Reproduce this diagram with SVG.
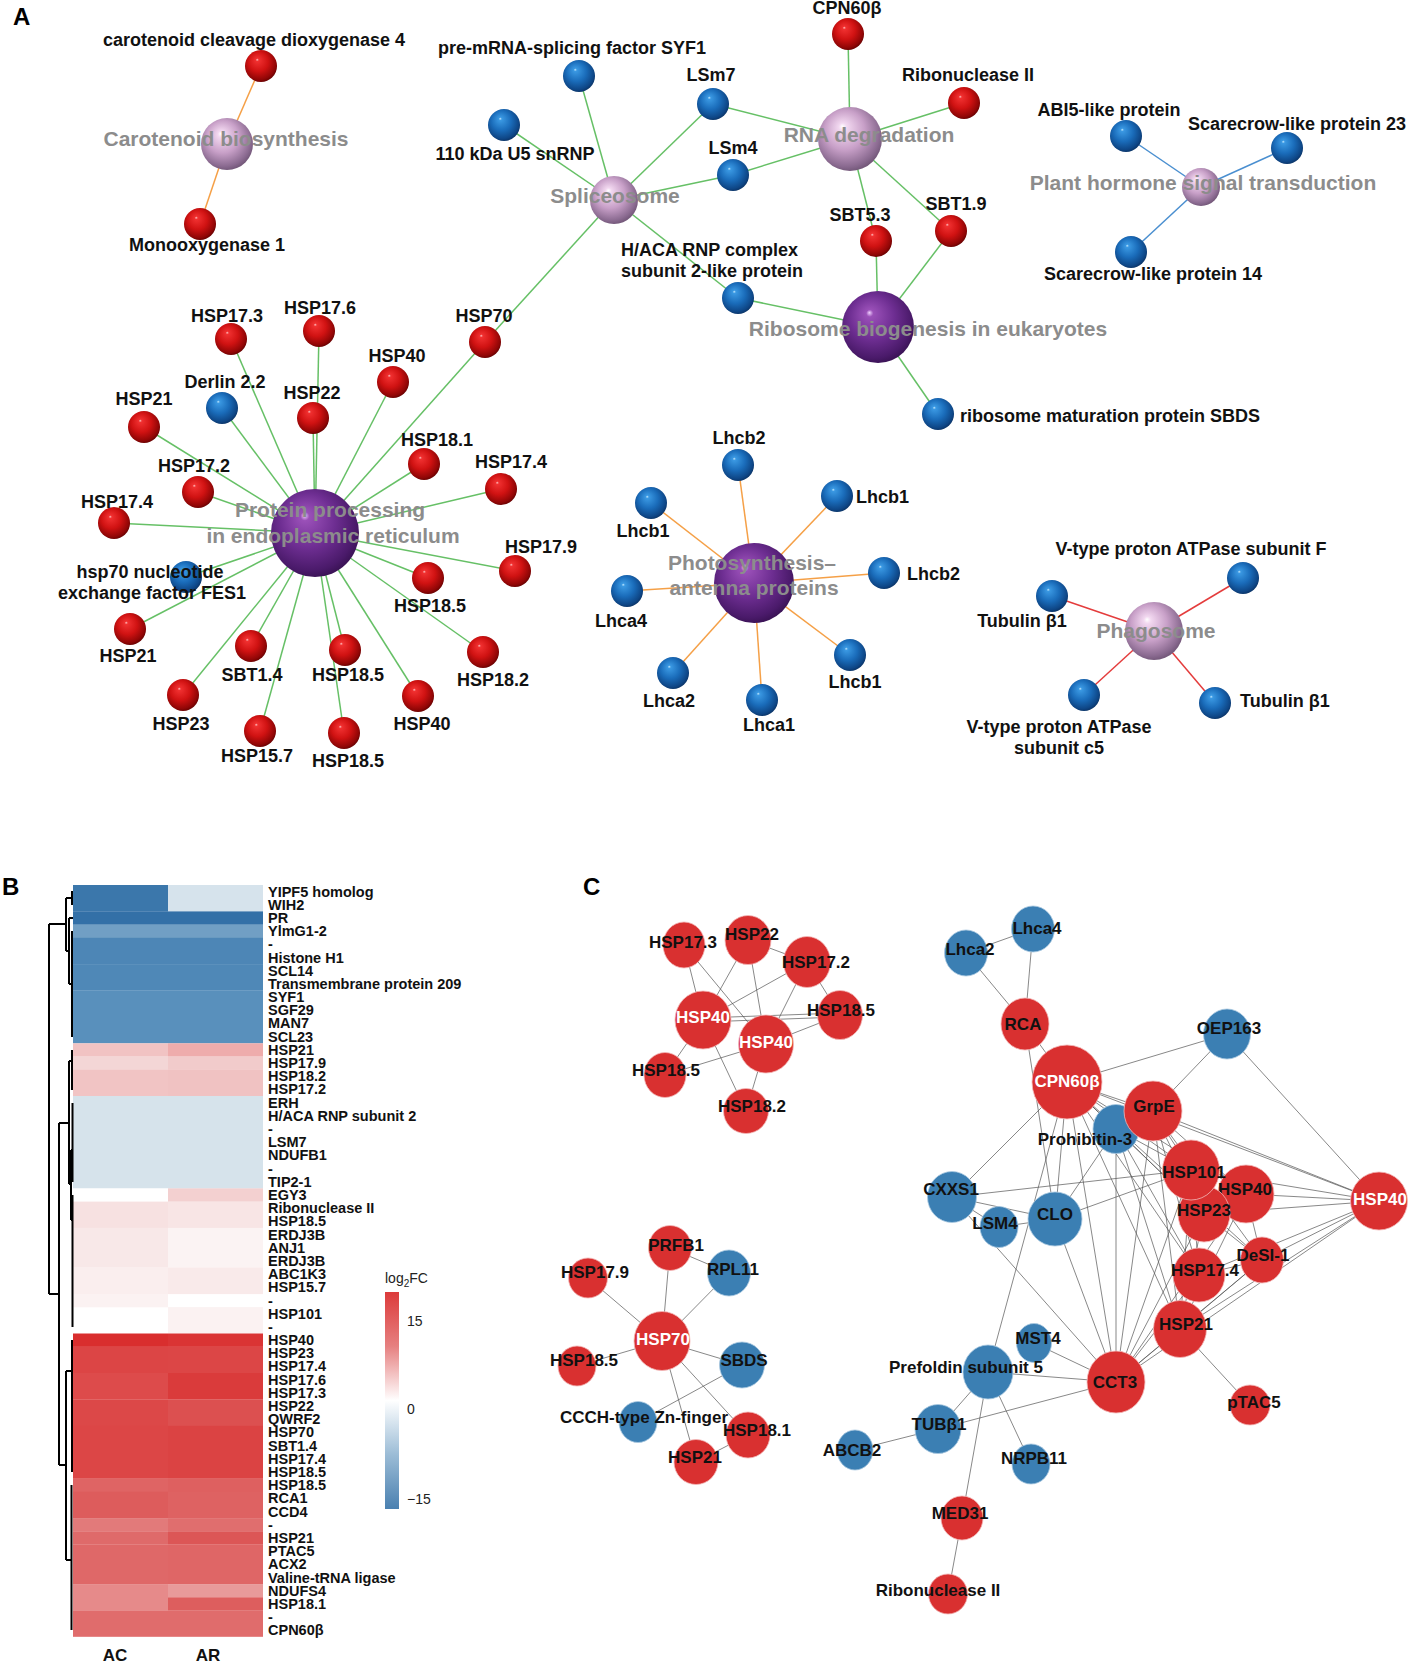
<svg xmlns="http://www.w3.org/2000/svg" width="1410" height="1663" viewBox="0 0 1410 1663">
<defs>
<radialGradient id="gR" cx="0.45" cy="0.42" r="0.62" fx="0.38" fy="0.3"><stop offset="0" stop-color="#ffc0c0"/><stop offset="0.08" stop-color="#f03030"/><stop offset="0.5" stop-color="#d01212"/><stop offset="0.85" stop-color="#900606"/><stop offset="1" stop-color="#5a0000"/></radialGradient>
<radialGradient id="gB" cx="0.45" cy="0.42" r="0.62" fx="0.38" fy="0.3"><stop offset="0" stop-color="#c0e8ff"/><stop offset="0.08" stop-color="#3a98e2"/><stop offset="0.5" stop-color="#1a6cba"/><stop offset="0.85" stop-color="#0e4686"/><stop offset="1" stop-color="#0a2e5c"/></radialGradient>
<radialGradient id="gL" cx="0.45" cy="0.42" r="0.62" fx="0.38" fy="0.3"><stop offset="0" stop-color="#ffffff"/><stop offset="0.1" stop-color="#f2d8f0"/><stop offset="0.5" stop-color="#c8a0c8"/><stop offset="0.85" stop-color="#8a6a90"/><stop offset="1" stop-color="#6a5070"/></radialGradient>
<radialGradient id="gP" cx="0.45" cy="0.42" r="0.62" fx="0.38" fy="0.3"><stop offset="0" stop-color="#f0d0ff"/><stop offset="0.08" stop-color="#9a50b8"/><stop offset="0.5" stop-color="#6e2e92"/><stop offset="0.85" stop-color="#4a1a6a"/><stop offset="1" stop-color="#35104e"/></radialGradient>
<linearGradient id="gLeg" x1="0" y1="0" x2="0" y2="1"><stop offset="0" stop-color="#dc3b3b"/><stop offset="0.25" stop-color="#e68080"/><stop offset="0.5" stop-color="#ffffff"/><stop offset="0.75" stop-color="#9bbcd6"/><stop offset="1" stop-color="#4a80b0"/></linearGradient>
</defs>
<style>
text{font-family:"Liberation Sans",Arial,sans-serif;font-weight:bold}
.t{font-size:18px;fill:#111;text-anchor:middle}
.s{text-anchor:start}
.hub{font-size:21px;fill:#8c8c8c;text-anchor:middle}
.tc{font-size:17px;fill:#111;text-anchor:middle}
.tw{fill:#fff}
.hm{font-size:14.5px;fill:#111}
.lg{font-weight:normal;font-size:14px;fill:#222}
.panel{font-size:24px;fill:#000}
.sr{fill:url(#gR)}.sb{fill:url(#gB)}.sl{fill:url(#gL)}.sp{fill:url(#gP)}
.eg{stroke:#66c066;stroke-width:1.5}
.eo{stroke:#f5a047;stroke-width:1.5}
.eb{stroke:#4a8fd0;stroke-width:1.5}
.er{stroke:#e43c3c;stroke-width:1.5}
.ec{stroke:#555;stroke-width:0.7}
.cr{fill:#d93030;stroke:#f2b8b8;stroke-width:0.8}
.cb{fill:#3b7fb3;stroke:#a8c8e0;stroke-width:0.8}
.dg{fill:none;stroke:#000;stroke-width:2}
</style>
<rect width="1410" height="1663" fill="#fff"/>
<text class="panel" x="13" y="25">A</text>
<text class="panel" x="2" y="895">B</text>
<text class="panel" x="583" y="895">C</text>

<g id="a-edges">
<line class="eo" x1="227" y1="144" x2="261" y2="66"/>
<line class="eo" x1="227" y1="144" x2="200" y2="224"/>
<line class="eg" x1="614" y1="200" x2="579" y2="76"/>
<line class="eg" x1="614" y1="200" x2="504" y2="125"/>
<line class="eg" x1="614" y1="200" x2="713" y2="104"/>
<line class="eg" x1="614" y1="200" x2="733" y2="175"/>
<line class="eg" x1="614" y1="200" x2="738" y2="298"/>
<line class="eg" x1="614" y1="200" x2="485" y2="342"/>
<line class="eg" x1="850" y1="139" x2="713" y2="104"/>
<line class="eg" x1="850" y1="139" x2="733" y2="175"/>
<line class="eg" x1="850" y1="139" x2="848" y2="34"/>
<line class="eg" x1="850" y1="139" x2="964" y2="103"/>
<line class="eg" x1="850" y1="139" x2="876" y2="241"/>
<line class="eg" x1="850" y1="139" x2="951" y2="231"/>
<line class="eg" x1="878" y1="327" x2="876" y2="241"/>
<line class="eg" x1="878" y1="327" x2="951" y2="231"/>
<line class="eg" x1="878" y1="327" x2="738" y2="298"/>
<line class="eg" x1="878" y1="327" x2="938" y2="414"/>
<line class="eb" x1="1201" y1="187" x2="1126" y2="136"/>
<line class="eb" x1="1201" y1="187" x2="1287" y2="148"/>
<line class="eb" x1="1201" y1="187" x2="1131" y2="252"/>
<line class="eg" x1="315" y1="533" x2="231" y2="339"/>
<line class="eg" x1="315" y1="533" x2="319" y2="331"/>
<line class="eg" x1="315" y1="533" x2="485" y2="342"/>
<line class="eg" x1="315" y1="533" x2="393" y2="382"/>
<line class="eg" x1="315" y1="533" x2="222" y2="408"/>
<line class="eg" x1="315" y1="533" x2="313" y2="418"/>
<line class="eg" x1="315" y1="533" x2="144" y2="427"/>
<line class="eg" x1="315" y1="533" x2="424" y2="464"/>
<line class="eg" x1="315" y1="533" x2="501" y2="489"/>
<line class="eg" x1="315" y1="533" x2="198" y2="492"/>
<line class="eg" x1="315" y1="533" x2="114" y2="523"/>
<line class="eg" x1="315" y1="533" x2="186" y2="577"/>
<line class="eg" x1="315" y1="533" x2="515" y2="571"/>
<line class="eg" x1="315" y1="533" x2="428" y2="578"/>
<line class="eg" x1="315" y1="533" x2="130" y2="629"/>
<line class="eg" x1="315" y1="533" x2="251" y2="646"/>
<line class="eg" x1="315" y1="533" x2="345" y2="650"/>
<line class="eg" x1="315" y1="533" x2="483" y2="652"/>
<line class="eg" x1="315" y1="533" x2="183" y2="695"/>
<line class="eg" x1="315" y1="533" x2="418" y2="696"/>
<line class="eg" x1="315" y1="533" x2="260" y2="731"/>
<line class="eg" x1="315" y1="533" x2="344" y2="733"/>
<line class="eo" x1="754" y1="583" x2="738" y2="465"/>
<line class="eo" x1="754" y1="583" x2="651" y2="503"/>
<line class="eo" x1="754" y1="583" x2="837" y2="496"/>
<line class="eo" x1="754" y1="583" x2="884" y2="573"/>
<line class="eo" x1="754" y1="583" x2="627" y2="591"/>
<line class="eo" x1="754" y1="583" x2="673" y2="673"/>
<line class="eo" x1="754" y1="583" x2="762" y2="700"/>
<line class="eo" x1="754" y1="583" x2="850" y2="655"/>
<line class="er" x1="1154" y1="631" x2="1052" y2="596"/>
<line class="er" x1="1154" y1="631" x2="1243" y2="578"/>
<line class="er" x1="1154" y1="631" x2="1084" y2="695"/>
<line class="er" x1="1154" y1="631" x2="1215" y2="703"/>
</g>

<g id="a-ccd4"><circle class="sr" cx="261" cy="66" r="16"/><text class="t" x="254" y="46">carotenoid cleavage dioxygenase 4</text></g>
<g id="a-mono1"><circle class="sr" cx="200" cy="224" r="16"/><text class="t" x="207" y="251">Monooxygenase 1</text></g>
<g id="a-carot"><circle class="sl" cx="227" cy="144" r="26"/><text class="hub" x="226" y="146">Carotenoid biosynthesis</text></g>
<g id="a-syf1"><circle class="sb" cx="579" cy="76" r="16"/><text class="t" x="572" y="54">pre-mRNA-splicing factor SYF1</text></g>
<g id="a-u5"><circle class="sb" cx="504" cy="125" r="16"/><text class="t" x="515" y="160">110 kDa U5 snRNP</text></g>
<g id="a-lsm7"><circle class="sb" cx="713" cy="104" r="16"/><text class="t" x="711" y="81">LSm7</text></g>
<g id="a-lsm4"><circle class="sb" cx="733" cy="175" r="16"/><text class="t" x="733" y="154">LSm4</text></g>
<g id="a-cpn"><circle class="sr" cx="848" cy="34" r="16"/><text class="t" x="847" y="14">CPN60β</text></g>
<g id="a-rib2"><circle class="sr" cx="964" cy="103" r="16"/><text class="t" x="968" y="81">Ribonuclease II</text></g>
<g id="a-sbt53"><circle class="sr" cx="876" cy="241" r="16"/><text class="t" x="860" y="221">SBT5.3</text></g>
<g id="a-sbt19"><circle class="sr" cx="951" cy="231" r="16"/><text class="t" x="956" y="210">SBT1.9</text></g>
<g id="a-haca"><circle class="sb" cx="738" cy="298" r="16"/><text class="t s" x="621" y="256">H/ACA RNP complex</text><text class="t s" x="621" y="277">subunit 2-like protein</text></g>
<g id="a-sbds"><circle class="sb" cx="938" cy="414" r="16"/><text class="t s" x="960" y="422">ribosome maturation protein SBDS</text></g>
<g id="a-splice"><circle class="sl" cx="614" cy="200" r="24"/><text class="hub" x="615" y="203">Spliceosome</text></g>
<g id="a-rnadeg"><circle class="sl" cx="850" cy="139" r="32"/><text class="hub" x="869" y="142">RNA degradation</text></g>
<g id="a-ribo"><circle class="sp" cx="878" cy="327" r="36"/><text class="hub" x="928" y="336">Ribosome biogenesis in eukaryotes</text></g>
<g id="a-abi5"><circle class="sb" cx="1126" cy="136" r="16"/><text class="t" x="1109" y="116">ABI5-like protein</text></g>
<g id="a-scl23"><circle class="sb" cx="1287" cy="148" r="16"/><text class="t" x="1297" y="130">Scarecrow-like protein 23</text></g>
<g id="a-scl14"><circle class="sb" cx="1131" cy="252" r="16"/><text class="t" x="1153" y="280">Scarecrow-like protein 14</text></g>
<g id="a-hormone"><circle class="sl" cx="1201" cy="187" r="19"/><text class="hub" x="1203" y="190">Plant hormone signal transduction</text></g>

<g id="a-hsp173"><circle class="sr" cx="231" cy="339" r="16"/><text class="t" x="227" y="322">HSP17.3</text></g>
<g id="a-hsp176"><circle class="sr" cx="319" cy="331" r="16"/><text class="t" x="320" y="314">HSP17.6</text></g>
<g id="a-hsp70"><circle class="sr" cx="485" cy="342" r="16"/><text class="t" x="484" y="322">HSP70</text></g>
<g id="a-hsp40a"><circle class="sr" cx="393" cy="382" r="16"/><text class="t" x="397" y="362">HSP40</text></g>
<g id="a-derlin"><circle class="sb" cx="222" cy="408" r="16"/><text class="t" x="225" y="388">Derlin 2.2</text></g>
<g id="a-hsp22"><circle class="sr" cx="313" cy="418" r="16"/><text class="t" x="312" y="399">HSP22</text></g>
<g id="a-hsp21a"><circle class="sr" cx="144" cy="427" r="16"/><text class="t" x="144" y="405">HSP21</text></g>
<g id="a-hsp181"><circle class="sr" cx="424" cy="464" r="16"/><text class="t" x="437" y="446">HSP18.1</text></g>
<g id="a-hsp174r"><circle class="sr" cx="501" cy="489" r="16"/><text class="t" x="511" y="468">HSP17.4</text></g>
<g id="a-hsp172"><circle class="sr" cx="198" cy="492" r="16"/><text class="t" x="194" y="472">HSP17.2</text></g>
<g id="a-hsp174l"><circle class="sr" cx="114" cy="523" r="16"/><text class="t" x="117" y="508">HSP17.4</text></g>
<g id="a-fes1"><circle class="sb" cx="186" cy="577" r="16"/><text class="t" x="150" y="578">hsp70 nucleotide</text><text class="t" x="152" y="599">exchange factor FES1</text></g>
<g id="a-hsp179"><circle class="sr" cx="515" cy="571" r="16"/><text class="t" x="541" y="553">HSP17.9</text></g>
<g id="a-hsp185a"><circle class="sr" cx="428" cy="578" r="16"/><text class="t" x="430" y="612">HSP18.5</text></g>
<g id="a-hsp21b"><circle class="sr" cx="130" cy="629" r="16"/><text class="t" x="128" y="662">HSP21</text></g>
<g id="a-sbt14"><circle class="sr" cx="251" cy="646" r="16"/><text class="t" x="252" y="681">SBT1.4</text></g>
<g id="a-hsp185b"><circle class="sr" cx="345" cy="650" r="16"/><text class="t" x="348" y="681">HSP18.5</text></g>
<g id="a-hsp182"><circle class="sr" cx="483" cy="652" r="16"/><text class="t" x="493" y="686">HSP18.2</text></g>
<g id="a-hsp23"><circle class="sr" cx="183" cy="695" r="16"/><text class="t" x="181" y="730">HSP23</text></g>
<g id="a-hsp40b"><circle class="sr" cx="418" cy="696" r="16"/><text class="t" x="422" y="730">HSP40</text></g>
<g id="a-hsp157"><circle class="sr" cx="260" cy="731" r="16"/><text class="t" x="257" y="762">HSP15.7</text></g>
<g id="a-hsp185c"><circle class="sr" cx="344" cy="733" r="16"/><text class="t" x="348" y="767">HSP18.5</text></g>
<g id="a-protein"><circle class="sp" cx="315" cy="533" r="44"/><text class="hub" x="330" y="517">Protein processing</text><text class="hub" x="333" y="543">in endoplasmic reticulum</text></g>

<g id="a-lhcb2t"><circle class="sb" cx="738" cy="465" r="16"/><text class="t" x="739" y="444">Lhcb2</text></g>
<g id="a-lhcb1ul"><circle class="sb" cx="651" cy="503" r="16"/><text class="t" x="643" y="537">Lhcb1</text></g>
<g id="a-lhcb1ur"><circle class="sb" cx="837" cy="496" r="16"/><text class="t s" x="856" y="503">Lhcb1</text></g>
<g id="a-lhcb2r"><circle class="sb" cx="884" cy="573" r="16"/><text class="t s" x="907" y="580">Lhcb2</text></g>
<g id="a-lhca4"><circle class="sb" cx="627" cy="591" r="16"/><text class="t" x="621" y="627">Lhca4</text></g>
<g id="a-lhca2"><circle class="sb" cx="673" cy="673" r="16"/><text class="t" x="669" y="707">Lhca2</text></g>
<g id="a-lhca1"><circle class="sb" cx="762" cy="700" r="16"/><text class="t" x="769" y="731">Lhca1</text></g>
<g id="a-lhcb1lr"><circle class="sb" cx="850" cy="655" r="16"/><text class="t" x="855" y="688">Lhcb1</text></g>
<g id="a-photo"><circle class="sp" cx="754" cy="583" r="40"/><text class="hub" x="752" y="570">Photosynthesis–</text><text class="hub" x="754" y="595">antenna proteins</text></g>

<g id="a-tub1"><circle class="sb" cx="1052" cy="596" r="16"/><text class="t" x="1022" y="627">Tubulin β1</text></g>
<g id="a-vtf"><circle class="sb" cx="1243" cy="578" r="16"/><text class="t" x="1191" y="555">V-type proton ATPase subunit F</text></g>
<g id="a-vtc5"><circle class="sb" cx="1084" cy="695" r="16"/><text class="t" x="1059" y="733">V-type proton ATPase</text><text class="t" x="1059" y="754">subunit c5</text></g>
<g id="a-tub2"><circle class="sb" cx="1215" cy="703" r="16"/><text class="t s" x="1240" y="707">Tubulin β1</text></g>
<g id="a-phago"><circle class="sl" cx="1154" cy="631" r="29"/><text class="hub" x="1156" y="638">Phagosome</text></g>

<!-- Panel B heatmap -->
<g id="b-heatmap">
<rect x="73" y="885" width="95" height="26.6" fill="#3b77ab"/><rect x="168" y="885" width="95" height="26.6" fill="#d6e3ec"/>
<rect x="73" y="911.4" width="190" height="13.4" fill="#3370a7"/>
<rect x="73" y="924.6" width="190" height="13.4" fill="#719fc4"/>
<rect x="73" y="937.8" width="190" height="26.5" fill="#4d86b6"/>
<rect x="73" y="964.1" width="190" height="26.6" fill="#4f88b7"/>
<rect x="73" y="990.5" width="190" height="52.9" fill="#5990bc"/>
<rect x="73" y="1043.3" width="95" height="13.4" fill="#f1c3c3"/><rect x="168" y="1043.3" width="95" height="13.4" fill="#eeacac"/>
<rect x="73" y="1056.5" width="95" height="13.4" fill="#f3d6d6"/><rect x="168" y="1056.5" width="95" height="13.4" fill="#f1cbcb"/>
<rect x="73" y="1069.7" width="95" height="26.5" fill="#f1c4c4"/><rect x="168" y="1069.7" width="95" height="26.5" fill="#f0c2c2"/>
<rect x="73" y="1096" width="190" height="92.6" fill="#d6e3eb"/>
<rect x="73" y="1188.4" width="95" height="13.4" fill="#ffffff"/><rect x="168" y="1188.4" width="95" height="13.4" fill="#f3d0d0"/>
<rect x="73" y="1201.6" width="95" height="26.5" fill="#f7e1e1"/><rect x="168" y="1201.6" width="95" height="26.5" fill="#f8e5e5"/>
<rect x="73" y="1227.9" width="95" height="39.8" fill="#f8e8e8"/><rect x="168" y="1227.9" width="95" height="39.8" fill="#fbf3f3"/>
<rect x="73" y="1267.5" width="95" height="26.6" fill="#faeeee"/><rect x="168" y="1267.5" width="95" height="26.6" fill="#f9eaea"/>
<rect x="73" y="1293.9" width="95" height="13.4" fill="#fbf2f2"/>
<rect x="168" y="1307.1" width="95" height="26.6" fill="#fbf2f2"/>
<rect x="73" y="1333.5" width="95" height="13.4" fill="#d92e2e"/><rect x="168" y="1333.5" width="95" height="13.4" fill="#da3434"/>
<rect x="73" y="1346.7" width="95" height="26.5" fill="#dc4545"/><rect x="168" y="1346.7" width="95" height="26.5" fill="#dc4646"/>
<rect x="73" y="1373" width="95" height="26.6" fill="#dd4b4b"/><rect x="168" y="1373" width="95" height="26.6" fill="#da3b3b"/>
<rect x="73" y="1399.4" width="95" height="26.6" fill="#dc4848"/><rect x="168" y="1399.4" width="95" height="26.6" fill="#dc5050"/>
<rect x="73" y="1425.8" width="95" height="53" fill="#dc4646"/><rect x="168" y="1425.8" width="95" height="53" fill="#db4343"/>
<rect x="73" y="1478.6" width="95" height="13.4" fill="#df6464"/><rect x="168" y="1478.6" width="95" height="13.4" fill="#de6060"/>
<rect x="73" y="1491.7" width="95" height="26.6" fill="#dd5c5c"/><rect x="168" y="1491.7" width="95" height="26.6" fill="#de6262"/>
<rect x="73" y="1518.1" width="95" height="13.4" fill="#e27a7a"/><rect x="168" y="1518.1" width="95" height="13.4" fill="#e06e6e"/>
<rect x="73" y="1531.3" width="95" height="13.4" fill="#df6a6a"/><rect x="168" y="1531.3" width="95" height="13.4" fill="#dc5656"/>
<rect x="73" y="1544.5" width="95" height="39.8" fill="#df6868"/><rect x="168" y="1544.5" width="95" height="39.8" fill="#df6666"/>
<rect x="73" y="1584.1" width="95" height="26.6" fill="#e68a8a"/><rect x="168" y="1584.1" width="95" height="13.4" fill="#e89a9a"/><rect x="168" y="1597.3" width="95" height="13.4" fill="#dd5e5e"/>
<rect x="73" y="1610.5" width="190" height="26.3" fill="#e06c6c"/>
</g>
<g id="b-dendrogram">
<path class="dg" d="M49 924V1294 M49 924H66 M66 898V951 M66 898H72 M72 891V905 M66 951H69 M69 918V984 M69 918H73 M69 984H72 M72 931V1037"/>
<path class="dg" d="M49 1294H59 M59 1123V1465 M59 1123H69 M69 1061V1184 M69 1061H72 M72 1050V1090 M69 1184H71 M71 1150V1220 M71 1150H73 M72.5 1103V1182 M71 1220H73 M72.5 1195V1327"/>
<path class="dg" d="M59 1465H66 M66 1371V1560 M66 1371H72 M72 1340V1472 M66 1560H71 M71.5 1485V1630"/>
</g>
<g id="b-labels">
<text class="hm" x="268" y="897">YIPF5 homolog</text>
<text class="hm" x="268" y="910">WIH2</text>
<text class="hm" x="268" y="923">PR</text>
<text class="hm" x="268" y="936">YlmG1-2</text>
<text class="hm" x="268" y="949">-</text>
<text class="hm" x="268" y="963">Histone H1</text>
<text class="hm" x="268" y="976">SCL14</text>
<text class="hm" x="268" y="989">Transmembrane protein 209</text>
<text class="hm" x="268" y="1002">SYF1</text>
<text class="hm" x="268" y="1015">SGF29</text>
<text class="hm" x="268" y="1028">MAN7</text>
<text class="hm" x="268" y="1042">SCL23</text>
<text class="hm" x="268" y="1055">HSP21</text>
<text class="hm" x="268" y="1068">HSP17.9</text>
<text class="hm" x="268" y="1081">HSP18.2</text>
<text class="hm" x="268" y="1094">HSP17.2</text>
<text class="hm" x="268" y="1108">ERH</text>
<text class="hm" x="268" y="1121">H/ACA RNP subunit 2</text>
<text class="hm" x="268" y="1134">-</text>
<text class="hm" x="268" y="1147">LSM7</text>
<text class="hm" x="268" y="1160">NDUFB1</text>
<text class="hm" x="268" y="1174">-</text>
<text class="hm" x="268" y="1187">TIP2-1</text>
<text class="hm" x="268" y="1200">EGY3</text>
<text class="hm" x="268" y="1213">Ribonuclease II</text>
<text class="hm" x="268" y="1226">HSP18.5</text>
<text class="hm" x="268" y="1240">ERDJ3B</text>
<text class="hm" x="268" y="1253">ANJ1</text>
<text class="hm" x="268" y="1266">ERDJ3B</text>
<text class="hm" x="268" y="1279">ABC1K3</text>
<text class="hm" x="268" y="1292">HSP15.7</text>
<text class="hm" x="268" y="1306">-</text>
<text class="hm" x="268" y="1319">HSP101</text>
<text class="hm" x="268" y="1332">-</text>
<text class="hm" x="268" y="1345">HSP40</text>
<text class="hm" x="268" y="1358">HSP23</text>
<text class="hm" x="268" y="1371">HSP17.4</text>
<text class="hm" x="268" y="1385">HSP17.6</text>
<text class="hm" x="268" y="1398">HSP17.3</text>
<text class="hm" x="268" y="1411">HSP22</text>
<text class="hm" x="268" y="1424">QWRF2</text>
<text class="hm" x="268" y="1437">HSP70</text>
<text class="hm" x="268" y="1451">SBT1.4</text>
<text class="hm" x="268" y="1464">HSP17.4</text>
<text class="hm" x="268" y="1477">HSP18.5</text>
<text class="hm" x="268" y="1490">HSP18.5</text>
<text class="hm" x="268" y="1503">RCA1</text>
<text class="hm" x="268" y="1517">CCD4</text>
<text class="hm" x="268" y="1530">-</text>
<text class="hm" x="268" y="1543">HSP21</text>
<text class="hm" x="268" y="1556">PTAC5</text>
<text class="hm" x="268" y="1569">ACX2</text>
<text class="hm" x="268" y="1583">Valine-tRNA ligase</text>
<text class="hm" x="268" y="1596">NDUFS4</text>
<text class="hm" x="268" y="1609">HSP18.1</text>
<text class="hm" x="268" y="1622">-</text>
<text class="hm" x="268" y="1635">CPN60β</text>
<text class="t" style="font-size:17px" x="115" y="1661">AC</text>
<text class="t" style="font-size:17px" x="208" y="1661">AR</text>
</g>
<g id="b-legend">
<text class="lg" x="385" y="1283">log<tspan font-size="10" dy="4">2</tspan><tspan dy="-4">FC</tspan></text>
<rect x="385" y="1292" width="14" height="217" fill="url(#gLeg)"/>
<text class="lg" x="407" y="1326">15</text>
<text class="lg" x="407" y="1414">0</text>
<text class="lg" x="407" y="1504">−15</text>
</g>

<!-- Panel C -->
<g id="c-edges">
<line class="ec" x1="684" y1="945" x2="703" y2="1020"/>
<line class="ec" x1="684" y1="945" x2="766" y2="1044"/>
<line class="ec" x1="748" y1="940" x2="703" y2="1020"/>
<line class="ec" x1="748" y1="940" x2="766" y2="1044"/>
<line class="ec" x1="748" y1="940" x2="807" y2="962"/>
<line class="ec" x1="807" y1="962" x2="703" y2="1020"/>
<line class="ec" x1="807" y1="962" x2="766" y2="1044"/>
<line class="ec" x1="807" y1="962" x2="840" y2="1015"/>
<line class="ec" x1="703" y1="1018" x2="840" y2="1013"/>
<line class="ec" x1="703" y1="1022" x2="840" y2="1017"/>
<line class="ec" x1="766" y1="1044" x2="840" y2="1015"/>
<line class="ec" x1="703" y1="1020" x2="665" y2="1075"/>
<line class="ec" x1="766" y1="1044" x2="665" y2="1075"/>
<line class="ec" x1="703" y1="1020" x2="746" y2="1111"/>
<line class="ec" x1="766" y1="1044" x2="746" y2="1111"/>
<line class="ec" x1="670" y1="1248" x2="729" y2="1273"/>
<line class="ec" x1="670" y1="1248" x2="662" y2="1341"/>
<line class="ec" x1="729" y1="1273" x2="662" y2="1341"/>
<line class="ec" x1="588" y1="1278" x2="662" y2="1341"/>
<line class="ec" x1="577" y1="1366" x2="662" y2="1341"/>
<line class="ec" x1="662" y1="1341" x2="742" y2="1365"/>
<line class="ec" x1="742" y1="1365" x2="638" y2="1422"/>
<line class="ec" x1="662" y1="1341" x2="748" y2="1435"/>
<line class="ec" x1="662" y1="1341" x2="696" y2="1462"/>
<line class="ec" x1="748" y1="1435" x2="696" y2="1462"/>
<line class="ec" x1="966" y1="953" x2="1033" y2="929"/>
<line class="ec" x1="1033" y1="929" x2="1025" y2="1024"/>
<line class="ec" x1="966" y1="953" x2="1025" y2="1024"/>
<line class="ec" x1="1025" y1="1024" x2="1067" y2="1082"/>
<line class="ec" x1="1025" y1="1024" x2="1055" y2="1219"/>
<line class="ec" x1="1067" y1="1082" x2="1227" y2="1034"/>
<line class="ec" x1="1227" y1="1034" x2="1153" y2="1111"/>
<line class="ec" x1="1227" y1="1034" x2="1379" y2="1201"/>
<line class="ec" x1="1067" y1="1082" x2="952" y2="1197"/>
<line class="ec" x1="1067" y1="1082" x2="1055" y2="1219"/>
<line class="ec" x1="1067" y1="1082" x2="988" y2="1372"/>
<line class="ec" x1="1067" y1="1082" x2="1153" y2="1111"/>
<line class="ec" x1="1067" y1="1082" x2="1191" y2="1170"/>
<line class="ec" x1="1067" y1="1082" x2="1246" y2="1194"/>
<line class="ec" x1="1067" y1="1082" x2="1204" y2="1214"/>
<line class="ec" x1="1067" y1="1082" x2="1199" y2="1275"/>
<line class="ec" x1="1067" y1="1082" x2="1180" y2="1329"/>
<line class="ec" x1="1067" y1="1082" x2="1379" y2="1201"/>
<line class="ec" x1="1067" y1="1082" x2="1262" y2="1260"/>
<line class="ec" x1="1067" y1="1082" x2="1116" y2="1382"/>
<line class="ec" x1="1067" y1="1082" x2="1116" y2="1129"/>
<line class="ec" x1="1153" y1="1111" x2="1191" y2="1170"/>
<line class="ec" x1="1153" y1="1111" x2="1246" y2="1194"/>
<line class="ec" x1="1153" y1="1111" x2="1204" y2="1214"/>
<line class="ec" x1="1153" y1="1111" x2="1199" y2="1275"/>
<line class="ec" x1="1153" y1="1111" x2="1180" y2="1329"/>
<line class="ec" x1="1153" y1="1111" x2="1379" y2="1201"/>
<line class="ec" x1="1153" y1="1111" x2="1262" y2="1260"/>
<line class="ec" x1="1153" y1="1111" x2="1116" y2="1382"/>
<line class="ec" x1="1116" y1="1129" x2="1055" y2="1219"/>
<line class="ec" x1="1116" y1="1129" x2="1116" y2="1382"/>
<line class="ec" x1="1116" y1="1129" x2="1191" y2="1170"/>
<line class="ec" x1="1116" y1="1129" x2="1199" y2="1275"/>
<line class="ec" x1="1116" y1="1129" x2="1180" y2="1329"/>
<line class="ec" x1="1116" y1="1129" x2="1204" y2="1214"/>
<line class="ec" x1="952" y1="1197" x2="1191" y2="1170"/>
<line class="ec" x1="952" y1="1197" x2="1055" y2="1219"/>
<line class="ec" x1="952" y1="1197" x2="999" y2="1227"/>
<line class="ec" x1="952" y1="1197" x2="1116" y2="1382"/>
<line class="ec" x1="999" y1="1227" x2="1055" y2="1219"/>
<line class="ec" x1="1055" y1="1219" x2="1191" y2="1170"/>
<line class="ec" x1="1055" y1="1219" x2="1116" y2="1382"/>
<line class="ec" x1="1191" y1="1170" x2="1379" y2="1201"/>
<line class="ec" x1="1191" y1="1170" x2="1116" y2="1382"/>
<line class="ec" x1="1191" y1="1170" x2="1199" y2="1275"/>
<line class="ec" x1="1191" y1="1170" x2="1180" y2="1329"/>
<line class="ec" x1="1246" y1="1194" x2="1379" y2="1201"/>
<line class="ec" x1="1246" y1="1194" x2="1262" y2="1260"/>
<line class="ec" x1="1246" y1="1194" x2="1116" y2="1382"/>
<line class="ec" x1="1246" y1="1194" x2="1180" y2="1329"/>
<line class="ec" x1="1204" y1="1214" x2="1379" y2="1201"/>
<line class="ec" x1="1204" y1="1214" x2="1262" y2="1260"/>
<line class="ec" x1="1204" y1="1214" x2="1116" y2="1382"/>
<line class="ec" x1="1204" y1="1214" x2="1180" y2="1329"/>
<line class="ec" x1="1199" y1="1275" x2="1262" y2="1260"/>
<line class="ec" x1="1199" y1="1275" x2="1116" y2="1382"/>
<line class="ec" x1="1199" y1="1275" x2="1379" y2="1201"/>
<line class="ec" x1="1262" y1="1260" x2="1379" y2="1201"/>
<line class="ec" x1="1262" y1="1260" x2="1116" y2="1382"/>
<line class="ec" x1="1262" y1="1260" x2="1180" y2="1329"/>
<line class="ec" x1="1180" y1="1329" x2="1379" y2="1201"/>
<line class="ec" x1="1180" y1="1329" x2="1116" y2="1382"/>
<line class="ec" x1="1180" y1="1329" x2="1250" y2="1405"/>
<line class="ec" x1="1379" y1="1201" x2="1116" y2="1382"/>
<line class="ec" x1="1116" y1="1382" x2="1034" y2="1343"/>
<line class="ec" x1="1116" y1="1382" x2="988" y2="1372"/>
<line class="ec" x1="1116" y1="1382" x2="938" y2="1429"/>
<line class="ec" x1="988" y1="1372" x2="938" y2="1429"/>
<line class="ec" x1="988" y1="1372" x2="1031" y2="1464"/>
<line class="ec" x1="988" y1="1372" x2="962" y2="1518"/>
<line class="ec" x1="938" y1="1429" x2="855" y2="1450"/>
<line class="ec" x1="962" y1="1518" x2="948" y2="1594"/>
</g>

<g id="c-hsp173"><ellipse class="cr" cx="684" cy="945" rx="21" ry="23"/><text class="tc" x="683" y="948">HSP17.3</text></g>
<g id="c-hsp22"><ellipse class="cr" cx="748" cy="940" rx="23" ry="24.5"/><text class="tc" x="752" y="940">HSP22</text></g>
<g id="c-hsp172"><ellipse class="cr" cx="807" cy="962" rx="23.5" ry="25.5"/><text class="tc" x="816" y="968">HSP17.2</text></g>
<g id="c-hsp185r"><ellipse class="cr" cx="840" cy="1015" rx="22.5" ry="24.5"/><text class="tc" x="841" y="1016">HSP18.5</text></g>
<g id="c-hsp40l"><ellipse class="cr" cx="703" cy="1020" rx="28" ry="29"/><text class="tc tw" x="703" y="1023">HSP40</text></g>
<g id="c-hsp40r"><ellipse class="cr" cx="766" cy="1044" rx="27.5" ry="29"/><text class="tc tw" x="766" y="1048">HSP40</text></g>
<g id="c-hsp185l"><ellipse class="cr" cx="665" cy="1075" rx="21" ry="22.5"/><text class="tc" x="666" y="1076">HSP18.5</text></g>
<g id="c-hsp182"><ellipse class="cr" cx="746" cy="1111" rx="22.5" ry="22.5"/><text class="tc" x="752" y="1112">HSP18.2</text></g>

<g id="c-prfb1"><ellipse class="cr" cx="670" cy="1248" rx="21.5" ry="22.5"/><text class="tc" x="676" y="1251">PRFB1</text></g>
<g id="c-rpl11"><ellipse class="cb" cx="729" cy="1273" rx="21.5" ry="23"/><text class="tc" x="733" y="1275">RPL11</text></g>
<g id="c-hsp179"><ellipse class="cr" cx="588" cy="1278" rx="19.5" ry="20"/><text class="tc" x="595" y="1278">HSP17.9</text></g>
<g id="c-hsp70"><ellipse class="cr" cx="662" cy="1341" rx="28" ry="29.5"/><text class="tc tw" x="663" y="1345">HSP70</text></g>
<g id="c-hsp185"><ellipse class="cr" cx="577" cy="1366" rx="19" ry="20"/><text class="tc" x="584" y="1366">HSP18.5</text></g>
<g id="c-sbds"><ellipse class="cb" cx="742" cy="1365" rx="22.5" ry="23"/><text class="tc" x="744" y="1366">SBDS</text></g>
<g id="c-ccch"><ellipse class="cb" cx="638" cy="1422" rx="19" ry="20.5"/><text class="tc" x="644" y="1423">CCCH-type Zn-finger</text></g>
<g id="c-hsp181"><ellipse class="cr" cx="748" cy="1435" rx="22" ry="23"/><text class="tc" x="757" y="1436">HSP18.1</text></g>
<g id="c-hsp21l"><ellipse class="cr" cx="696" cy="1462" rx="22" ry="22.5"/><text class="tc" x="695" y="1463">HSP21</text></g>

<g id="c-lhca2"><ellipse class="cb" cx="966" cy="953" rx="21.5" ry="23"/><text class="tc" x="970" y="955">Lhca2</text></g>
<g id="c-lhca4"><ellipse class="cb" cx="1033" cy="929" rx="21.5" ry="23"/><text class="tc" x="1037" y="934">Lhca4</text></g>
<g id="c-rca"><ellipse class="cr" cx="1025" cy="1024" rx="24" ry="26"/><text class="tc" x="1023" y="1030">RCA</text></g>
<g id="c-oep163"><ellipse class="cb" cx="1227" cy="1034" rx="23.5" ry="25"/><text class="tc" x="1229" y="1034">OEP163</text></g>
<g id="c-prohib"><ellipse class="cb" cx="1116" cy="1129" rx="23" ry="24.5"/><text class="tc" x="1085" y="1145">Prohibitin-3</text></g>
<g id="c-cpn"><ellipse class="cr" cx="1067" cy="1082" rx="35" ry="37"/><text class="tc tw" x="1067" y="1087">CPN60β</text></g>
<g id="c-grpe"><ellipse class="cr" cx="1153" cy="1111" rx="29" ry="30"/><text class="tc" x="1154" y="1112">GrpE</text></g>
<g id="c-hsp40m"><ellipse class="cr" cx="1246" cy="1194" rx="28" ry="29"/><text class="tc" x="1245" y="1195">HSP40</text></g>
<g id="c-hsp23"><ellipse class="cr" cx="1204" cy="1214" rx="26" ry="28"/><text class="tc" x="1204" y="1216">HSP23</text></g>
<g id="c-hsp101"><ellipse class="cr" cx="1191" cy="1170" rx="28.5" ry="30"/><text class="tc" x="1194" y="1178">HSP101</text></g>
<g id="c-hsp40R"><ellipse class="cr" cx="1379" cy="1201" rx="28.5" ry="29"/><text class="tc tw" x="1380" y="1205">HSP40</text></g>
<g id="c-desi"><ellipse class="cr" cx="1262" cy="1260" rx="21.5" ry="23"/><text class="tc" x="1263" y="1261">DeSI-1</text></g>
<g id="c-hsp174"><ellipse class="cr" cx="1199" cy="1275" rx="26" ry="27"/><text class="tc" x="1205" y="1276">HSP17.4</text></g>
<g id="c-hsp21"><ellipse class="cr" cx="1180" cy="1329" rx="26.5" ry="28.5"/><text class="tc" x="1186" y="1330">HSP21</text></g>
<g id="c-cxxs1"><ellipse class="cb" cx="952" cy="1197" rx="24.5" ry="25.5"/><text class="tc" x="951" y="1195">CXXS1</text></g>
<g id="c-lsm4"><ellipse class="cb" cx="999" cy="1227" rx="19" ry="20.5"/><text class="tc" x="995" y="1229">LSM4</text></g>
<g id="c-clo"><ellipse class="cb" cx="1055" cy="1219" rx="27" ry="27"/><text class="tc" x="1055" y="1220">CLO</text></g>
<g id="c-mst4"><ellipse class="cb" cx="1034" cy="1343" rx="17.5" ry="19.5"/><text class="tc" x="1038" y="1344">MST4</text></g>
<g id="c-pfd"><ellipse class="cb" cx="988" cy="1372" rx="25" ry="27"/><text class="tc" x="966" y="1373">Prefoldin subunit 5</text></g>
<g id="c-cct3"><ellipse class="cr" cx="1116" cy="1382" rx="29" ry="31"/><text class="tc" x="1115" y="1388">CCT3</text></g>
<g id="c-ptac5"><ellipse class="cr" cx="1250" cy="1405" rx="20" ry="20"/><text class="tc" x="1254" y="1408">pTAC5</text></g>
<g id="c-tub"><ellipse class="cb" cx="938" cy="1429" rx="23" ry="24.5"/><text class="tc" x="939" y="1430">TUBβ1</text></g>
<g id="c-abcb2"><ellipse class="cb" cx="855" cy="1450" rx="18" ry="20"/><text class="tc" x="852" y="1456">ABCB2</text></g>
<g id="c-nrpb11"><ellipse class="cb" cx="1031" cy="1464" rx="19" ry="20"/><text class="tc" x="1034" y="1464">NRPB11</text></g>
<g id="c-med31"><ellipse class="cr" cx="962" cy="1518" rx="21" ry="22"/><text class="tc" x="960" y="1519">MED31</text></g>
<g id="c-rnase2"><ellipse class="cr" cx="948" cy="1594" rx="19.5" ry="20"/><text class="tc" x="938" y="1596">Ribonuclease II</text></g>
</svg>
